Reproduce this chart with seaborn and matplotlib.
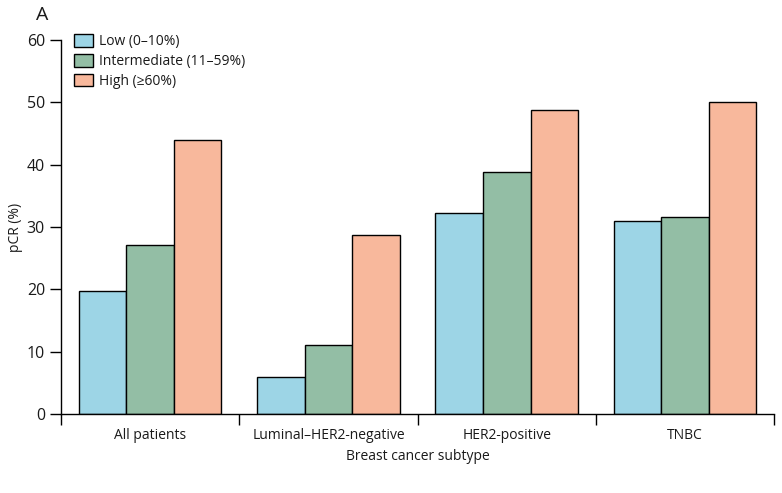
import matplotlib
matplotlib.use("Agg")
import matplotlib.pyplot as plt
import seaborn as sns
import pandas as pd
from matplotlib.patches import Patch

subtypes = ["All patients", "Luminal\u2013HER2-negative", "HER2-positive", "TNBC"]
groups = ["Low (0\u201310%)", "Intermediate (11\u201359%)", "High (\u226560%)"]
low = [19.7, 5.9, 32.2, 31.0]
intermediate = [27.1, 11.1, 38.8, 31.6]
high = [44.0, 28.7, 48.8, 50.1]
colors = ["#9dd5e6", "#93bea5", "#f8b89c"]

rows = []
for g, vals in zip(groups, [low, intermediate, high]):
    for s, v in zip(subtypes, vals):
        rows.append({"subtype": s, "group": g, "pcr": v})
df = pd.DataFrame(rows)

sns.set_style("white")
plt.rcParams["font.family"] = ["Open Sans", "DejaVu Sans"]
plt.rcParams["text.color"] = "#1a1a1a"
plt.rcParams["axes.labelcolor"] = "#1a1a1a"
plt.rcParams["xtick.color"] = "#1a1a1a"
plt.rcParams["ytick.color"] = "#1a1a1a"

fig = plt.figure(figsize=(7.82, 4.93), dpi=100)
ax = fig.add_axes([0.078, 0.160, 0.912, 0.759])
sns.barplot(data=df, x="subtype", y="pcr", hue="group", order=subtypes,
            hue_order=groups, palette=colors, width=0.8, edgecolor="black",
            linewidth=1.0, saturation=1, ax=ax, legend=False)

ax.set_xlim(-0.5, 3.5)
ax.set_ylim(0, 60)
ax.set_yticks(range(0, 61, 10))
ax.set_xticks([-0.5, 0.5, 1.5, 2.5, 3.5])
ax.set_xticklabels([])
ax.set_xticks(range(4), minor=True)
ax.set_xticklabels(subtypes, minor=True, fontsize=10)
ax.tick_params(axis="x", which="minor", length=0, pad=10)
ax.tick_params(axis="x", which="major", length=8, width=1, direction="out", bottom=True, color="black")
ax.tick_params(axis="y", length=8, width=1, direction="out", left=True, labelsize=11.5, color="black")
for side in ["top", "right"]:
    ax.spines[side].set_visible(False)
for side in ["left", "bottom"]:
    ax.spines[side].set_color("black")
    ax.spines[side].set_linewidth(1)
ax.set_xlabel("Breast cancer subtype", fontsize=10, labelpad=4)
ax.set_ylabel("pCR (%)", fontsize=10, labelpad=3)

handles = [Patch(facecolor=c, edgecolor="black", linewidth=1) for c in colors]
ax.legend(handles, groups, loc="upper left", bbox_to_anchor=(0.01, 1.03), frameon=False,
          fontsize=10, handlelength=1.4, handleheight=1.0, handletextpad=0.4, labelspacing=0.35,
          borderaxespad=0)

fig.text(0.046, 0.988, "A", fontsize=14, va="top", ha="left")
fig.savefig("out.png", dpi=100)
